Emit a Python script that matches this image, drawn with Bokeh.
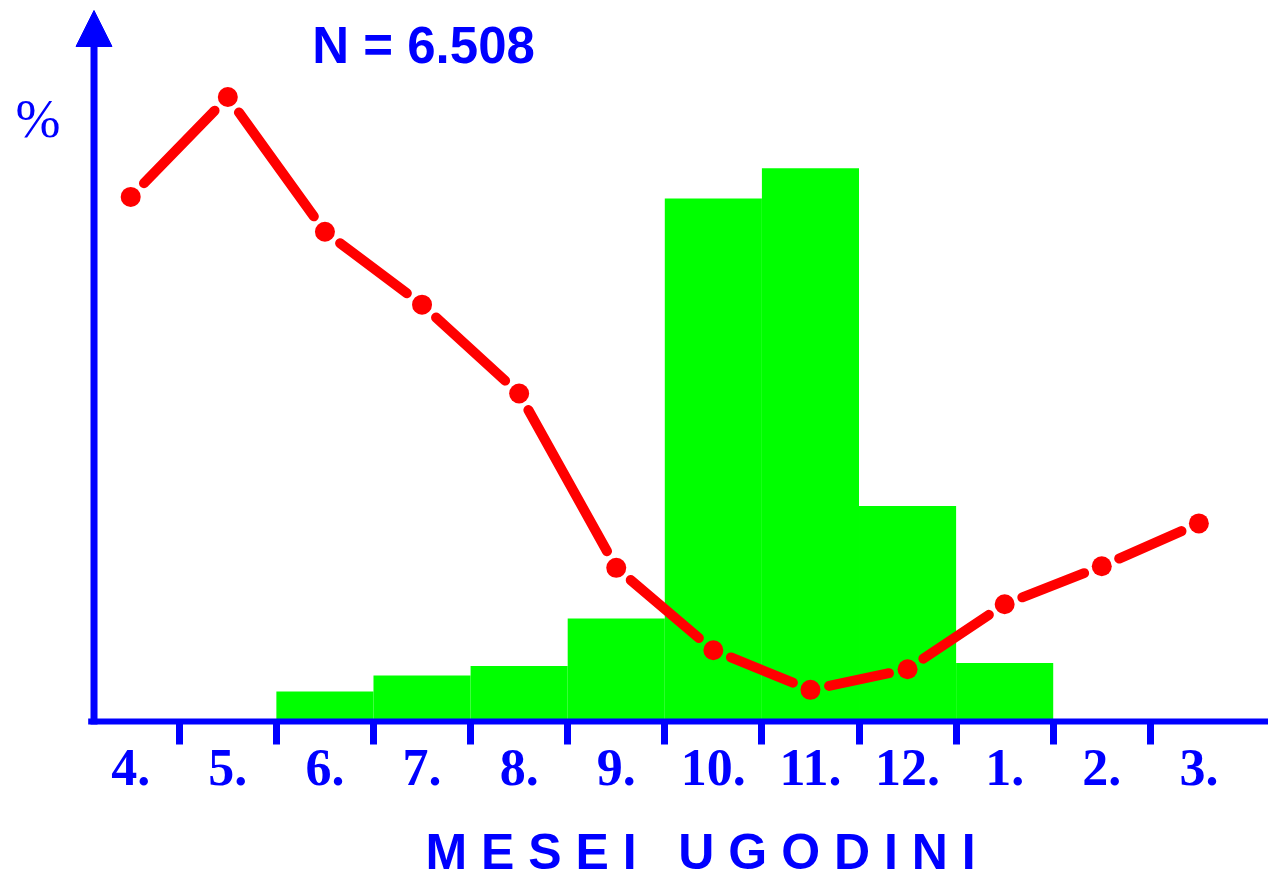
import math
from bokeh.plotting import figure
from bokeh.models import Range1d, FixedTicker, Label, Arrow, NormalHead, ColumnDataSource
from bokeh.embed import file_html
from bokeh.resources import INLINE

# ---- data ----
months = ["4.", "5.", "6.", "7.", "8.", "9.", "10.", "11.", "12.", "1.", "2.", "3."]
bar_pct = [0, 0, 1.9, 2.9, 3.5, 6.5, 33.0, 34.9, 13.6, 3.7, 0, 0]
line_pct = [33.1, 39.4, 30.9, 26.3, 20.7, 9.7, 4.5, 2.0, 3.3, 7.4, 9.8, 12.5]
n_text = "N = 6.508"
y_label = "%"
x_label = "M E S E I\u00a0\u00a0\u00a0U G O D I N I"

# ---- style / layout ----
BLUE = "#0000FF"
GREEN = "#00FF00"
RED = "#FF0000"
W, H = 1268, 881
X0, X1 = -0.841, 12.217
Y0, Y1 = -10.09, 45.49
YAX = 0.122  # where the vertical axis stands on the month scale

p = figure(width=W, height=H, x_range=Range1d(X0, X1), y_range=Range1d(Y0, Y1),
           output_backend="svg", toolbar_location=None,
           min_border_left=0, min_border_right=0, min_border_top=0, min_border_bottom=0)
p.title.visible = False
p.background_fill_color = "white"
p.border_fill_color = "white"
p.outline_line_color = None
p.grid.visible = False
p.yaxis.visible = False

# bars
idx = [i for i, v in enumerate(bar_pct) if v > 0]
src = ColumnDataSource(dict(left=idx, right=[i + 1 for i in idx], top=[bar_pct[i] for i in idx]))
p.quad(left="left", right="right", bottom=0, top="top", source=src,
       fill_color=GREEN, line_color=None)

# horizontal axis line
p.segment(x0=[YAX - 0.06], y0=[0], x1=[X1], y1=[0], line_color=BLUE, line_width=6)

# red line: segments with gaps around the dots
xs = [i + 0.5 for i in range(len(months))]
kx = W / (X1 - X0)
ky = H / (Y1 - Y0)
gap = 19.0
sx0, sy0, sx1, sy1 = [], [], [], []
for a in range(len(xs) - 1):
    dx = xs[a + 1] - xs[a]
    dy = line_pct[a + 1] - line_pct[a]
    L = math.hypot(dx * kx, dy * ky)
    f = gap / L
    sx0.append(xs[a] + dx * f)
    sy0.append(line_pct[a] + dy * f)
    sx1.append(xs[a + 1] - dx * f)
    sy1.append(line_pct[a + 1] - dy * f)
p.segment(sx0, sy0, sx1, sy1, line_color=RED, line_width=10, line_cap="round")
p.scatter(xs, line_pct, size=20, fill_color=RED, line_color=None)

# x axis (ticks + month labels), pinned at y = 0
ax = p.xaxis[0]
ax.fixed_location = 0
ax.ticker = FixedTicker(ticks=xs, minor_ticks=list(range(1, len(months))))
ax.major_label_overrides = {x: m for x, m in zip(xs, months)}
ax.axis_line_color = None
ax.major_tick_line_color = None
ax.major_tick_out = 28
ax.major_tick_in = 0
ax.minor_tick_line_color = BLUE
ax.minor_tick_line_width = 7
ax.minor_tick_out = 23
ax.minor_tick_in = 0
ax.major_label_text_font = "Liberation Serif"
ax.major_label_text_font_style = "bold"
ax.major_label_text_font_size = "52px"
ax.major_label_text_color = BLUE
ax.major_label_standoff = 0

# vertical axis as arrow
p.add_layout(Arrow(end=NormalHead(size=36, fill_color=BLUE, line_color=BLUE, line_width=1),
                   x_start=YAX, y_start=-0.19, x_end=YAX, y_end=44.86,
                   line_color=BLUE, line_width=7))

# texts
p.add_layout(Label(x=2.37, y=42.65, text=n_text, text_font="Liberation Sans",
                   text_font_style="bold", text_font_size="51px", text_color=BLUE,
                   text_align="left", text_baseline="alphabetic"))
p.add_layout(Label(x=-0.687, y=38.04, text=y_label, text_font="Liberation Serif",
                   text_font_size="54px", text_color=BLUE,
                   text_align="left", text_baseline="alphabetic"))
p.add_layout(Label(x=3.536, y=-8.2, text=x_label, text_font="Liberation Sans",
                   text_font_style="bold", text_font_size="50px", text_color=BLUE,
                   text_align="left", text_baseline="alphabetic"))

open("out.html", "w").write(file_html(p, INLINE))
